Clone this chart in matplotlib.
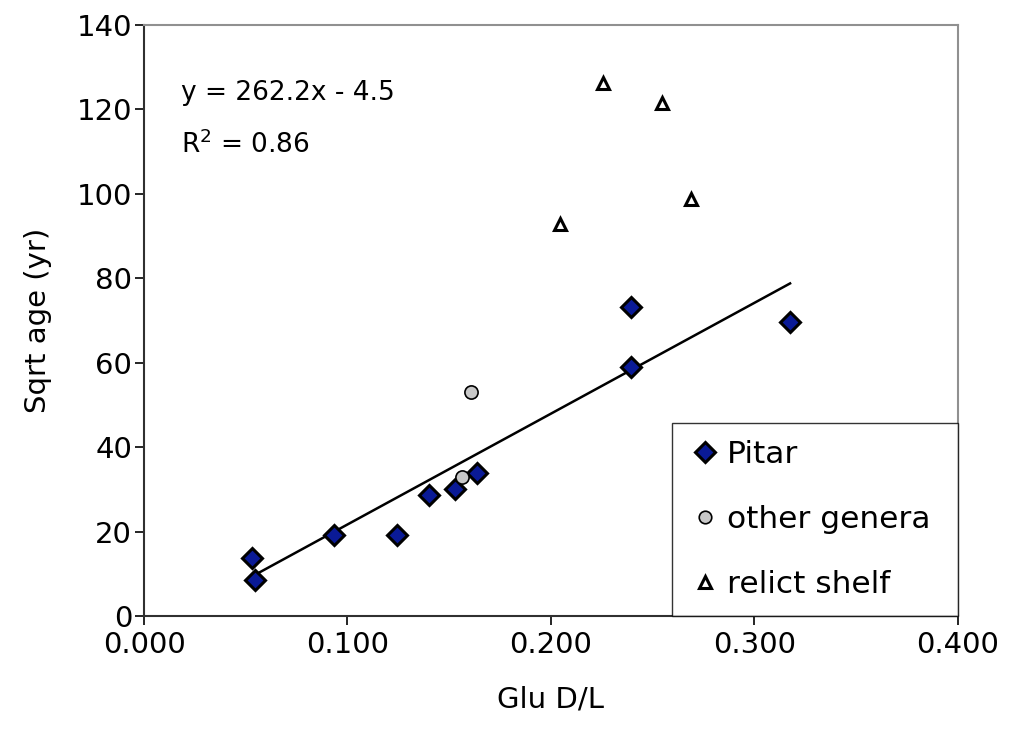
import numpy as np
import matplotlib
matplotlib.use('Agg')
import matplotlib.pyplot as plt

# values
pitar_x = [0.0533, 0.0546, 0.0934, 0.1244, 0.1403, 0.1529, 0.1639, 0.2394, 0.2394, 0.3176]
pitar_y = [13.7, 8.6, 19.2, 19.2, 28.7, 30.1, 34.0, 73.2, 58.9, 69.7]
other_x = [0.1562, 0.1608]
other_y = [33.0, 53.1]
relict_x = [0.2045, 0.2255, 0.2545, 0.2689]
relict_y = [92.8, 126.1, 121.4, 98.8]
trend_slope, trend_icpt = 262.2, -4.5
xticks = [0.0, 0.1, 0.2, 0.3, 0.4]
yticks = [0, 20, 40, 60, 80, 100, 120, 140]
eq_text = 'y = 262.2x - 4.5'
r2_text = 'R$^2$ = 0.86'

plt.rcParams['font.family'] = ['DejaVu Sans']
plt.rcParams['mathtext.default'] = 'regular'
fig = plt.figure(figsize=(10.1, 7.45), dpi=100)
ax = fig.add_axes([0.1426, 0.1728, 0.8056, 0.794])

# linear trendline for the Pitar series
xl = np.array([min(pitar_x), max(pitar_x)])
ax.plot(xl, trend_slope * xl + trend_icpt, color='black', lw=1.8, zorder=2)

ax.plot(pitar_x, pitar_y, ls='none', marker='D', ms=10.5, mfc='#0a1a96', mec='black',
        mew=2.2, label='Pitar', zorder=3)
ax.plot(other_x, other_y, ls='none', marker='o', ms=9.5, mfc='#c8c8c8', mec='black',
        mew=1.2, label='other genera', zorder=3)
ax.plot(relict_x, relict_y, ls='none', marker='^', ms=8.5, mfc='white', mec='black',
        mew=2.2, label='relict shelf', zorder=3)

ax.set_xlim(0, 0.4)
ax.set_ylim(0, 140)
ax.set_xticks(xticks)
ax.set_xticklabels(['{:.3f}'.format(v) for v in xticks])
ax.set_yticks(yticks)
ax.tick_params(direction='out', length=6.5, width=1.2, labelsize=21, colors='black')
ax.tick_params(axis='x', pad=4)
ax.tick_params(axis='y', pad=2)
for s in ['left', 'bottom']:
    ax.spines[s].set_color('#303030')
    ax.spines[s].set_linewidth(1.5)
for s in ['top', 'right']:
    ax.spines[s].set_color('#909090')
    ax.spines[s].set_linewidth(1.5)

ax.set_xlabel('Glu D/L', fontsize=21, labelpad=19)
ax.set_ylabel('Sqrt age (yr)', fontsize=21, labelpad=18)

ax.text(0.045, 0.885, eq_text, transform=ax.transAxes, fontsize=19, va='center')
ax.text(0.045, 0.797, r2_text, transform=ax.transAxes, fontsize=19, va='center')

leg = ax.legend(loc='lower left', bbox_to_anchor=(0.649, 0.0, 0.351, 0.3), mode='expand',
                borderaxespad=0, fontsize=22.5, frameon=True, fancybox=False,
                edgecolor='black', handlelength=1.0, handletextpad=0.2, borderpad=0.55,
                labelspacing=1.15, numpoints=1, markerscale=0.95)
leg.get_frame().set_linewidth(1.0)

fig.savefig('out.png', dpi=100)
